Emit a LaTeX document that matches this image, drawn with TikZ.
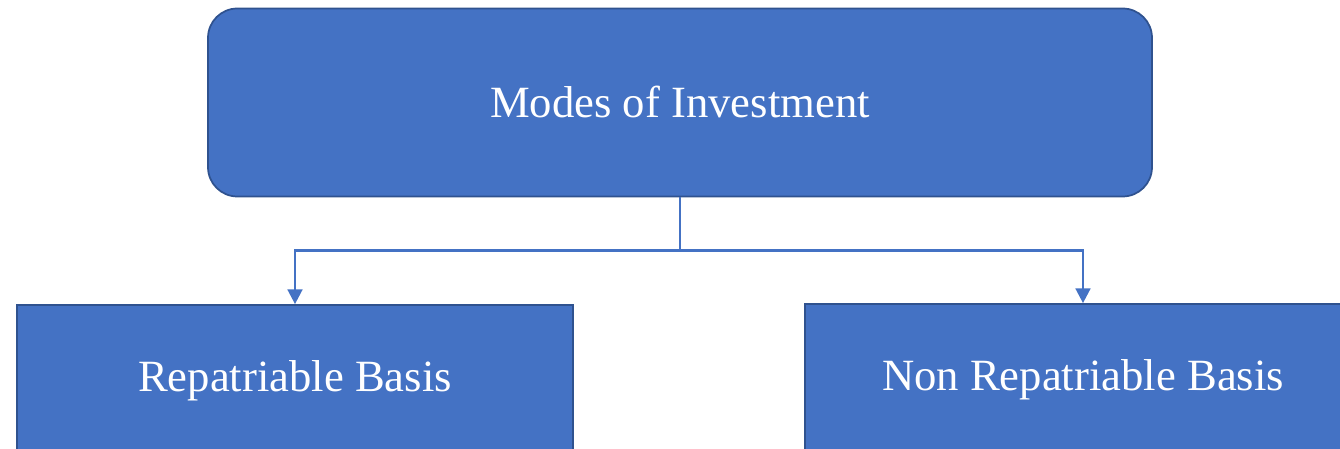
\documentclass[tikz,border=0pt]{standalone}
\usepackage{fontspec}
\setmainfont{Liberation Serif}
\usetikzlibrary{arrows.meta}
\definecolor{boxblue}{HTML}{4472C4}
\definecolor{boxedge}{HTML}{2F528F}

\begin{document}
\begin{tikzpicture}[
        x=0.75pt,
        y=0.75pt,
        every node/.style={font=\fontsize{33.5}{40}\selectfont, text=white},
        topbox/.style={
            draw=boxedge,
            fill=boxblue,
            line width=1.3pt,
            rounded corners=22pt,
            minimum width=708pt,
            minimum height=141pt,
            inner sep=0pt
        },
        basisbox/.style={
            draw=boxedge,
            fill=boxblue,
            line width=1.3pt,
            minimum width=417pt,
            minimum height=114pt,
            inner sep=0pt
        },
        link/.style={
            draw=boxblue,
            line width=1.9pt,
            -{Triangle[length=11pt,width=11pt]}
        }
    ]
        % Page frame: 1340 x 449, the lower boxes run past its edges
        \clip (0,0) rectangle (1340,449);

        % Top box
        \node[topbox] (modes) at (680,346.5) {Modes of Investment};

        % Lower row
        \node[basisbox] (rep) at (295,68) {Repatriable Basis};
        \node[basisbox] (nonrep) at (1083,69) {Non Repatriable Basis};

        % Trunk down to the branch point, then one arrow per box
        \draw[link, -] (modes.south) -- ++(0,-53) coordinate (split);
        \draw[link] (split) -| (rep.north);
        \draw[link] (split) -| (nonrep.north);
    \end{tikzpicture}
\end{document}
